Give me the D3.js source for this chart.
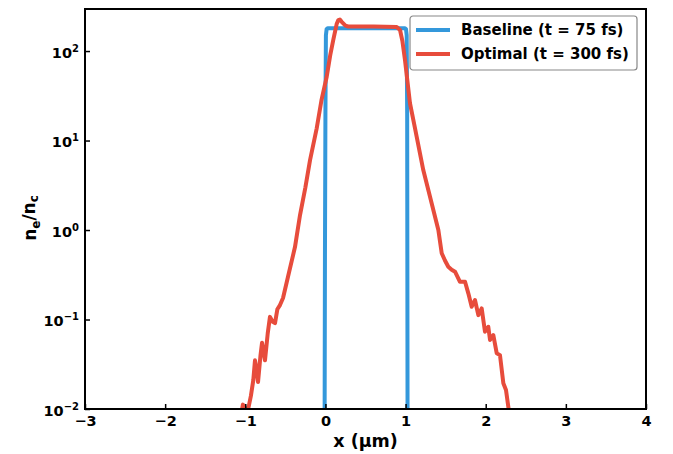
<!DOCTYPE html>
<html>
<head>
<meta charset="utf-8">
<script src="https://cdn.jsdelivr.net/npm/d3@7"></script>
<style>
  body { margin: 0; background: #fff; }
  text { font-family: "DejaVu Sans", sans-serif; font-weight: bold; }
</style>
</head>
<body>
<div id="chart"></div>
<script>
// x positions in µm, densities in n_e/n_c
const baselineX = [-0.012, -0.006, 0.0, 0.006, 0.015, 0.03, 0.5, 0.99, 1.005, 1.014, 1.02, 1.026];
const baselineY = [0.001, 0.5, 20, 150, 176, 180, 180, 180, 176, 150, 20, 0.001];

const optimalX = [-1.045, -1.03, -1.01, -0.99, -0.966, -0.93, -0.9, -0.879, -0.86, -0.841, -0.81, -0.791,
  -0.77, -0.754, -0.72, -0.692, -0.66, -0.629, -0.6, -0.567, -0.529, -0.467, -0.38, -0.317, -0.25,
  -0.192, -0.109, -0.05, 0.016, 0.06, 0.098, 0.14, 0.161, 0.18, 0.203, 0.25, 0.285, 0.6, 0.889, 0.931,
  0.96, 0.993, 1.055, 1.118, 1.139, 1.221, 1.305, 1.409, 1.451, 1.49, 1.533, 1.575, 1.617, 1.679, 1.742,
  1.783, 1.825, 1.866, 1.908, 1.95, 1.991, 2.032, 2.054, 2.095, 2.137, 2.178, 2.22, 2.253, 2.282, 2.3];
const optimalY = [0.0094, 0.0112, 0.0105, 0.0096, 0.0098, 0.014, 0.021, 0.035, 0.028, 0.020, 0.04, 0.055,
  0.042, 0.035, 0.07, 0.107, 0.095, 0.091, 0.13, 0.145, 0.174, 0.30, 0.645, 1.47, 3.0,
  6.05, 13.7, 28, 51.6, 90, 133, 200, 222, 225, 212, 192, 188, 188, 186, 172,
  130, 79, 26.1, 13.7, 11.0, 4.68, 2.35, 1.0, 0.55, 0.46, 0.389, 0.36, 0.342, 0.264, 0.264,
  0.196, 0.139, 0.165, 0.112, 0.133, 0.0731, 0.083, 0.059, 0.067, 0.042, 0.040, 0.0194, 0.0163, 0.0106, 0.008];

const xTicks = [-3, -2, -1, 0, 1, 2, 3, 4];
const yTicks = [0.01, 0.1, 1, 10, 100];

const series = [
  { name: 'Baseline (t = 75 fs)', color: '#3498db', x: baselineX, y: baselineY },
  { name: 'Optimal (t = 300 fs)', color: '#e74c3c', x: optimalX, y: optimalY }
];

const width = 673, height = 454;
const margin = { top: 9, right: 27, bottom: 45, left: 85 };
const innerW = width - margin.left - margin.right;
const innerH = height - margin.top - margin.bottom;

const svg = d3.select('#chart').append('svg')
  .attr('width', width)
  .attr('height', height);

const g = svg.append('g')
  .attr('transform', `translate(${margin.left},${margin.top})`);

const x = d3.scaleLinear().domain([-3, 4]).range([0, innerW]);
const y = d3.scaleLog().domain([0.01, 295]).range([innerH, 0]);

g.append('clipPath').attr('id', 'clip')
  .append('rect').attr('width', innerW).attr('height', innerH);

const line = d3.line()
  .x(d => x(d[0]))
  .y(d => y(d[1]));

series.forEach(s => {
  g.append('path')
    .datum(s.x.map((v, i) => [v, s.y[i]]))
    .attr('clip-path', 'url(#clip)')
    .attr('fill', 'none')
    .attr('stroke', s.color)
    .attr('stroke-width', 4)
    .attr('stroke-linejoin', 'round')
    .attr('d', line);
});

// axes, ticks pointing inward
const xAxis = g.append('g')
  .attr('transform', `translate(0,${innerH})`)
  .call(d3.axisBottom(x).tickValues(xTicks).tickSizeInner(-5).tickSizeOuter(0).tickPadding(7)
    .tickFormat(d => d < 0 ? '\u2212' + Math.abs(d) : d));
xAxis.select('.domain').remove();
xAxis.selectAll('line').attr('stroke', '#000').attr('stroke-width', 1.5);
xAxis.selectAll('text').attr('font-size', 14.5).attr('fill', '#000');

const yAxis = g.append('g')
  .call(d3.axisLeft(y).tickValues(yTicks).tickSizeInner(-5).tickSizeOuter(0).tickFormat(''));
yAxis.select('.domain').remove();
yAxis.selectAll('line').attr('stroke', '#000').attr('stroke-width', 1.5);
yAxis.selectAll('.tick').append('text')
  .attr('x', -6)
  .attr('y', 6)
  .attr('text-anchor', 'end')
  .attr('font-size', 14.5)
  .attr('fill', '#000')
  .each(function (d) {
    const e = Math.round(Math.log10(d));
    const t = d3.select(this);
    t.append('tspan').text('10');
    t.append('tspan').attr('font-size', 10).attr('dy', '-0.6em')
      .text(e < 0 ? '\u2212' + Math.abs(e) : e);
  });

g.append('rect')
  .attr('width', innerW)
  .attr('height', innerH)
  .attr('fill', 'none')
  .attr('stroke', '#000')
  .attr('stroke-width', 2);

// labels
svg.append('text')
  .attr('x', margin.left + x(0.5))
  .attr('y', 447)
  .attr('text-anchor', 'middle')
  .attr('font-size', 17.5)
  .text('x (\u03bcm)');

const yl = svg.append('text')
  .attr('transform', `translate(36,218) rotate(-90)`)
  .attr('text-anchor', 'middle')
  .attr('font-size', 17);
yl.append('tspan').text('n');
yl.append('tspan').attr('font-size', 12).attr('dy', '0.3em').text('e');
yl.append('tspan').attr('dy', '-0.3em').text('/n');
yl.append('tspan').attr('font-size', 12).attr('dy', '0.3em').text('c');

// legend
const lg = svg.append('g').attr('transform', 'translate(410,16)');
lg.append('rect')
  .attr('width', 227).attr('height', 54)
  .attr('rx', 3)
  .attr('fill', '#fff')
  .attr('stroke', '#888')
  .attr('stroke-width', 1.2);
series.forEach((s, i) => {
  const yy = 14 + i * 24;
  lg.append('line')
    .attr('x1', 6).attr('x2', 40)
    .attr('y1', yy).attr('y2', yy)
    .attr('stroke', s.color).attr('stroke-width', 4);
  lg.append('text')
    .attr('x', 51).attr('y', yy)
    .attr('dy', '0.35em')
    .attr('font-size', 15)
    .text(s.name);
});
</script>
</body>
</html>
